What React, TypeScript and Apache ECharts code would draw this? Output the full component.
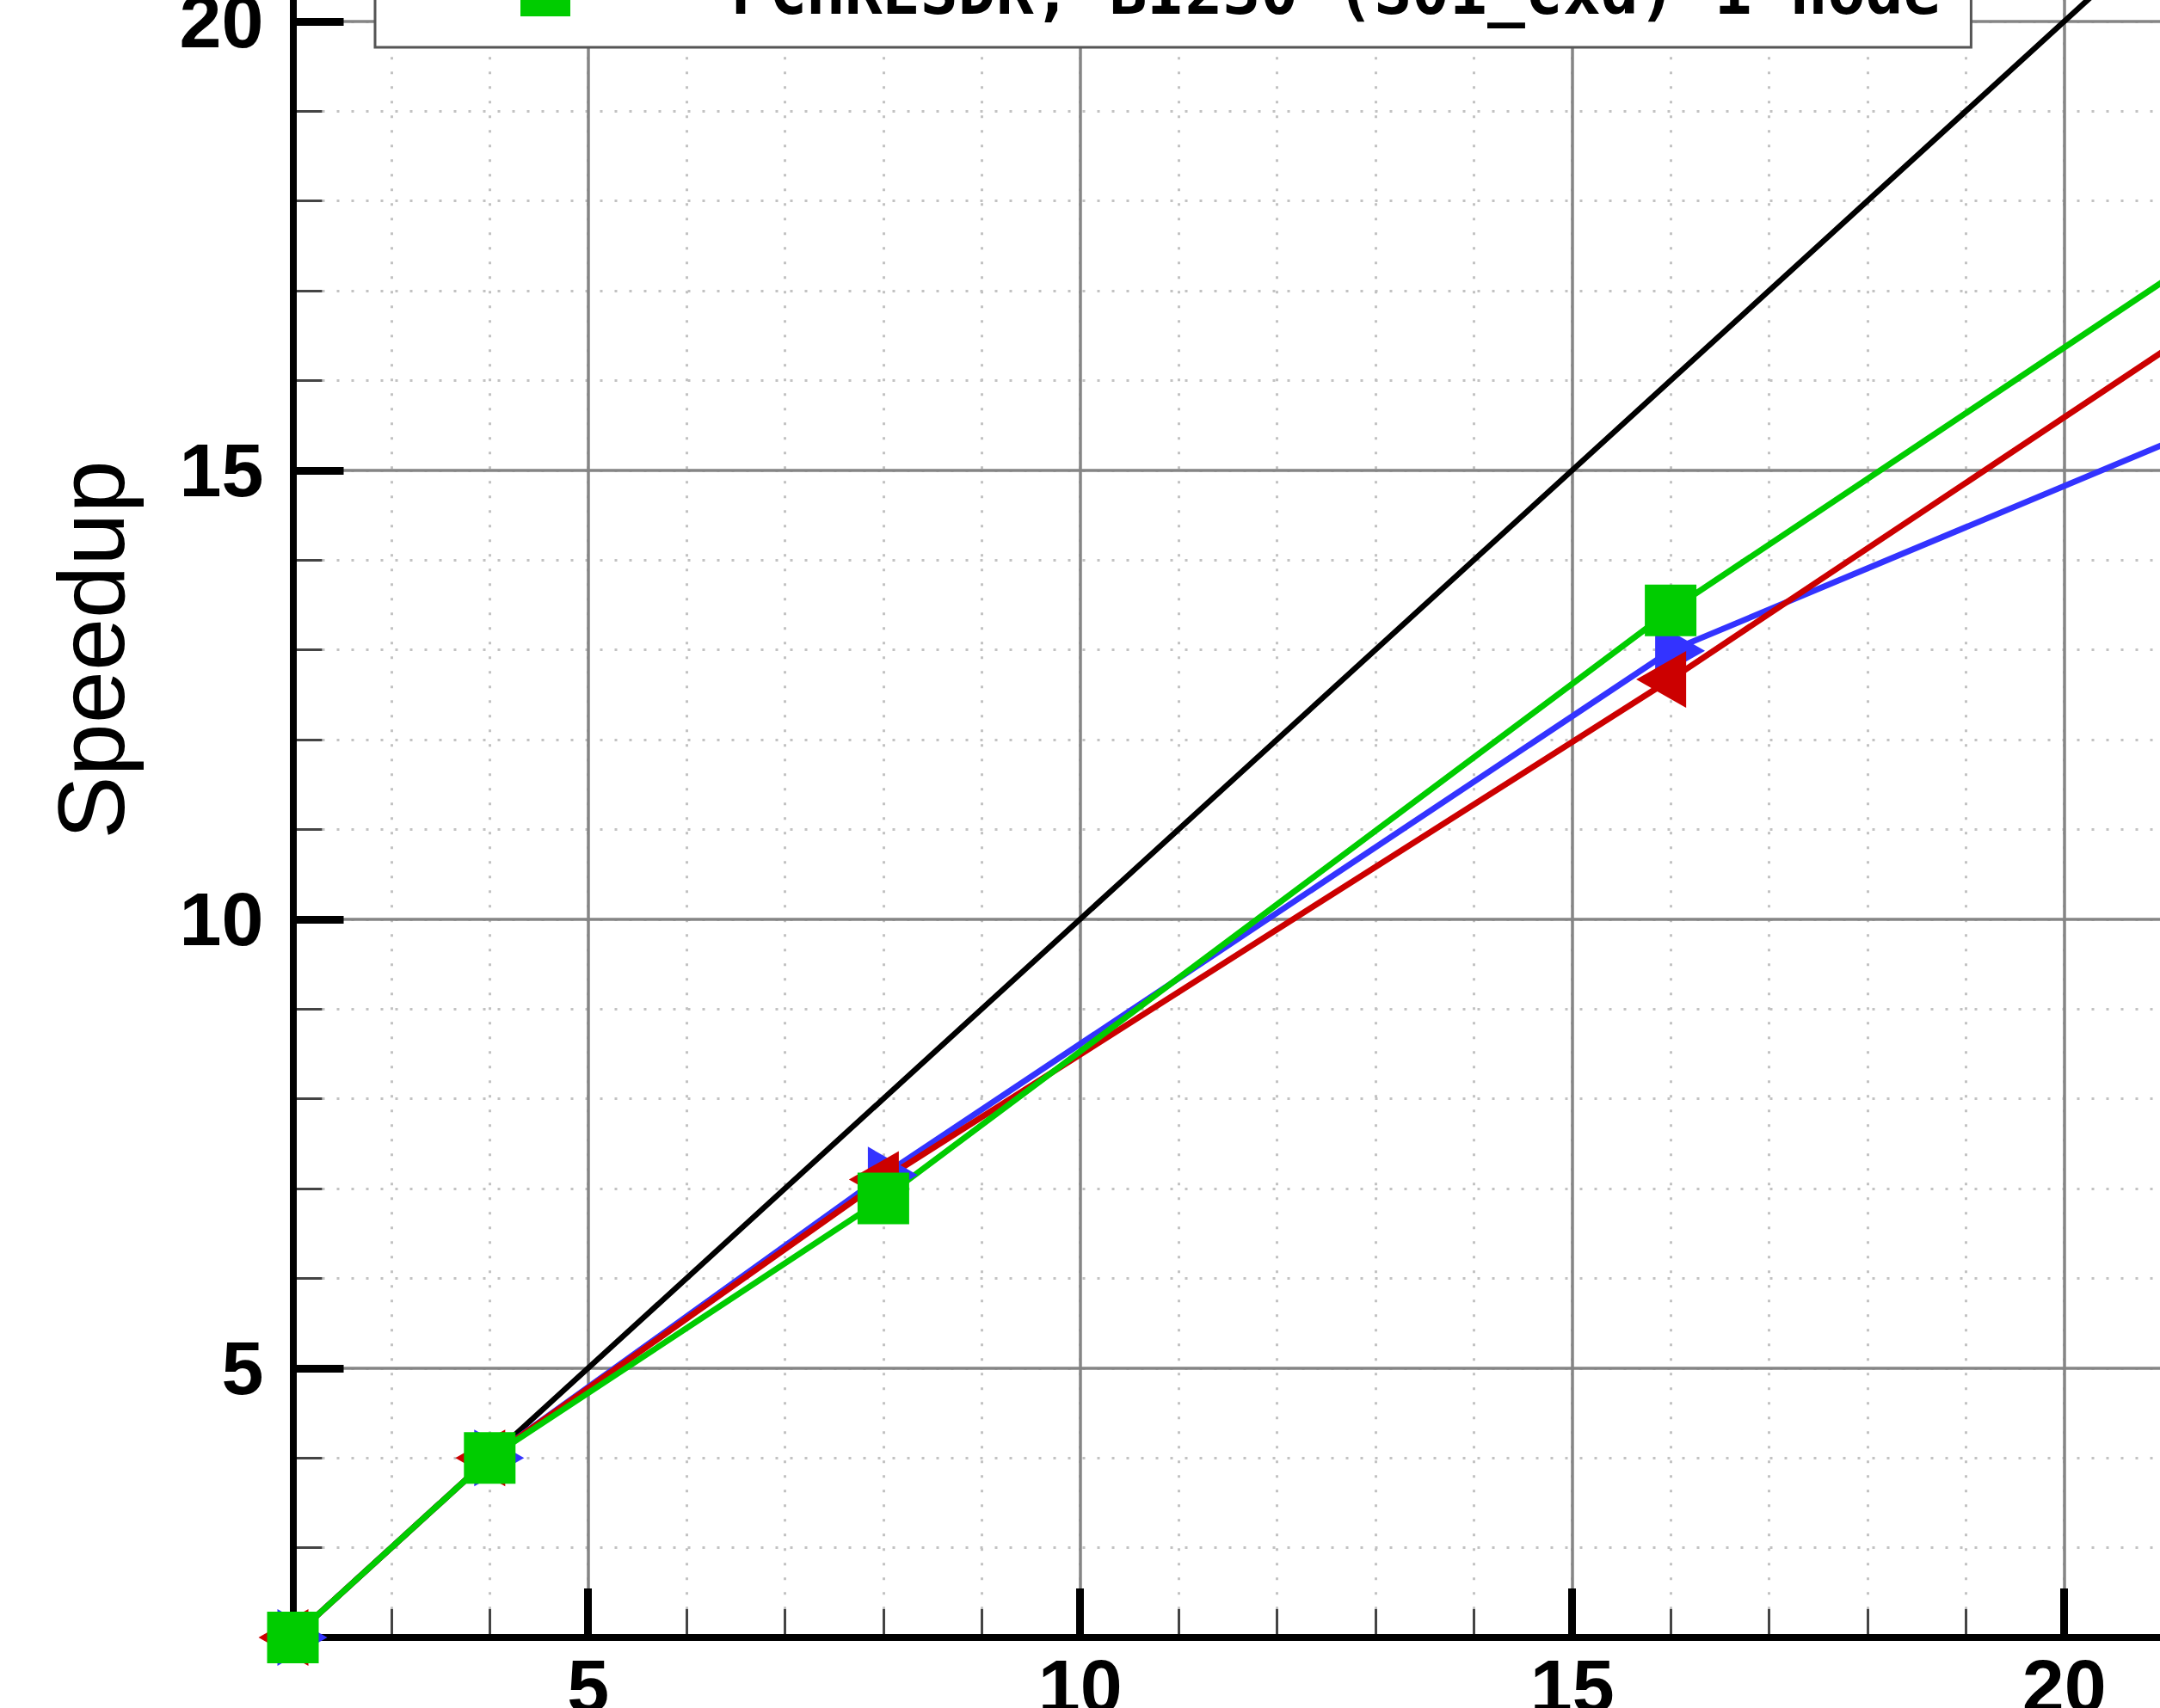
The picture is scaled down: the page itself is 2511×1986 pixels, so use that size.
import React, { useEffect, useRef } from 'react';
import * as echarts from 'echarts';

// ---------- data ----------
const X_VALUES = [2, 4, 8, 16, 32];
const IDEAL = [2, 4, 8, 16, 32];
const BLUE = [2, 4, 7.15, 12.99, 20.33];
const RED = [2, 4, 7.1, 12.67, 24.35];
const GREEN = [2, 4, 6.89, 13.44, 25.15];

const SERIES_NAMES = ['Ideal', 'Blue run', 'Red run', 'PCHRESDR, BI230 (S01_cxd) 1 node'];
const MAJOR_TICKS = [5, 10, 15, 20];

const X_MIN = 2;
const X_MAX = 24;
const Y_MIN = 2;
const Y_MAX = 24;

// ---------- layout ----------
const W = 2511;
const H = 1986;
const PX_PER_X = 114.4;
const PX_PER_Y = 104.4;
const GRID_LEFT = 340.5;
const GRID_BOTTOM_Y = 1904;
const GRID_W = (X_MAX - X_MIN) * PX_PER_X;
const GRID_H = (Y_MAX - Y_MIN) * PX_PER_Y;
const GRID_TOP = GRID_BOTTOM_Y - GRID_H;

const pairs = (ys: number[]) => X_VALUES.map((x, i) => [x, ys[i]]);

const LABEL_FONT = {
  fontSize: 88,
  fontWeight: 'bold' as const,
  fontFamily: '"Liberation Sans", Arial, Helvetica, sans-serif',
  color: '#000',
};

const MAJOR_GRID = { color: '#858585', width: 3.5 };
const MINOR_GRID = { color: '#c2c2c2', width: 3, type: [3, 14] as number[] };

export default function App() {
  const ref = useRef<HTMLDivElement>(null);

  useEffect(() => {
    if (!ref.current) return;
    const chart = echarts.init(ref.current, null, { renderer: 'svg' });

    const option: any = {
      animation: false,
      backgroundColor: '#fff',
      grid: {
        left: GRID_LEFT,
        top: GRID_TOP,
        width: GRID_W,
        height: GRID_H,
        containLabel: false,
        outerBoundsMode: 'none',
      },
      legend: {
        data: [
          {
            name: SERIES_NAMES[3],
            icon: 'path://M0,27.5L379,27.5L379,30.5L0,30.5ZM139,0L197,0L197,58L139,58Z',
          },
        ],
        orient: 'vertical',
        left: 436,
        bottom: H - 55,
        itemWidth: 379,
        itemHeight: 58,
        padding: [36, 35, 28.5, 30],
        backgroundColor: '#fff',
        borderColor: '#555',
        borderWidth: 3,
        selectedMode: false,
        textStyle: {
          fontFamily: '"DejaVu Sans Mono", "Liberation Mono", monospace',
          fontWeight: 'bold',
          fontSize: 73,
          color: '#000',
        },
      },
      xAxis: [
        {
          type: 'value',
          gridIndex: 0,
          position: 'bottom',
          min: X_MIN,
          max: X_MAX,
          z: 1,
          axisLine: { show: true, onZero: false, lineStyle: { color: '#000', width: 8, cap: 'square' } },
          axisTick: {
            show: true,
            inside: true,
            length: 57,
            customValues: MAJOR_TICKS,
            lineStyle: { color: '#000', width: 9 },
          },
          axisLabel: { show: true, customValues: MAJOR_TICKS, margin: 12, ...LABEL_FONT },
          splitLine: { show: true, lineStyle: MAJOR_GRID },
        },
        {
          type: 'value',
          gridIndex: 0,
          position: 'bottom',
          min: X_MIN,
          max: X_MAX,
          interval: 1,
          z: 0,
          axisLine: { show: false, onZero: false },
          axisLabel: { show: false },
          axisTick: { show: true, inside: true, length: 33, lineStyle: { color: '#444', width: 3 } },
          splitLine: { show: true, lineStyle: MINOR_GRID },
        },
      ],
      yAxis: [
        {
          type: 'value',
          gridIndex: 0,
          position: 'left',
          min: Y_MIN,
          max: Y_MAX,
          z: 1,
          name: 'Speedup',
          nameLocation: 'middle',
          nameRotate: 90,
          nameGap: 180,
          nameTextStyle: {
            fontSize: 110,
            fontFamily: '"Liberation Sans", Arial, Helvetica, sans-serif',
            color: '#000',
          },
          axisLine: { show: true, onZero: false, lineStyle: { color: '#000', width: 8, cap: 'square' } },
          axisTick: {
            show: true,
            inside: true,
            length: 59,
            customValues: MAJOR_TICKS,
            lineStyle: { color: '#000', width: 9 },
          },
          axisLabel: { show: true, customValues: MAJOR_TICKS, margin: 34, ...LABEL_FONT },
          splitLine: { show: true, lineStyle: MAJOR_GRID },
        },
        {
          type: 'value',
          gridIndex: 0,
          position: 'left',
          min: Y_MIN,
          max: Y_MAX,
          interval: 1,
          z: 0,
          axisLine: { show: false, onZero: false },
          axisLabel: { show: false },
          axisTick: { show: true, inside: true, length: 34, lineStyle: { color: '#444', width: 3 } },
          splitLine: { show: true, lineStyle: MINOR_GRID },
        },
      ],
      series: [
        {
          name: SERIES_NAMES[0],
          type: 'line',
          xAxisIndex: 0,
          yAxisIndex: 0,
          data: pairs(IDEAL),
          symbol: 'none',
          clip: false,
          lineStyle: { color: '#000', width: 6.5 },
          itemStyle: { color: '#000' },
        },
        {
          name: SERIES_NAMES[1],
          type: 'line',
          xAxisIndex: 0,
          yAxisIndex: 0,
          data: pairs(BLUE),
          symbol: 'triangle',
          symbolSize: [66, 58],
          symbolRotate: -90,
          symbolOffset: [11, 0],
          clip: false,
          lineStyle: { color: '#3333ff', width: 7 },
          itemStyle: { color: '#3333ff' },
        },
        {
          name: SERIES_NAMES[2],
          type: 'line',
          xAxisIndex: 0,
          yAxisIndex: 0,
          data: pairs(RED),
          symbol: 'triangle',
          symbolSize: [66, 58],
          symbolRotate: 90,
          symbolOffset: [-11, 0],
          clip: false,
          lineStyle: { color: '#cc0000', width: 7 },
          itemStyle: { color: '#cc0000' },
        },
        {
          name: SERIES_NAMES[3],
          type: 'line',
          xAxisIndex: 0,
          yAxisIndex: 0,
          data: pairs(GREEN),
          symbol: 'rect',
          symbolSize: 60,
          clip: false,
          lineStyle: { color: '#00cc00', width: 7 },
          itemStyle: { color: '#00cc00' },
        },
      ],
    };

    chart.setOption(option);
    return () => chart.dispose();
  }, []);

  return (
    <div
      ref={ref}
      style={{ position: 'fixed', left: 0, top: 0, width: W, height: H, background: '#fff' }}
    />
  );
}
